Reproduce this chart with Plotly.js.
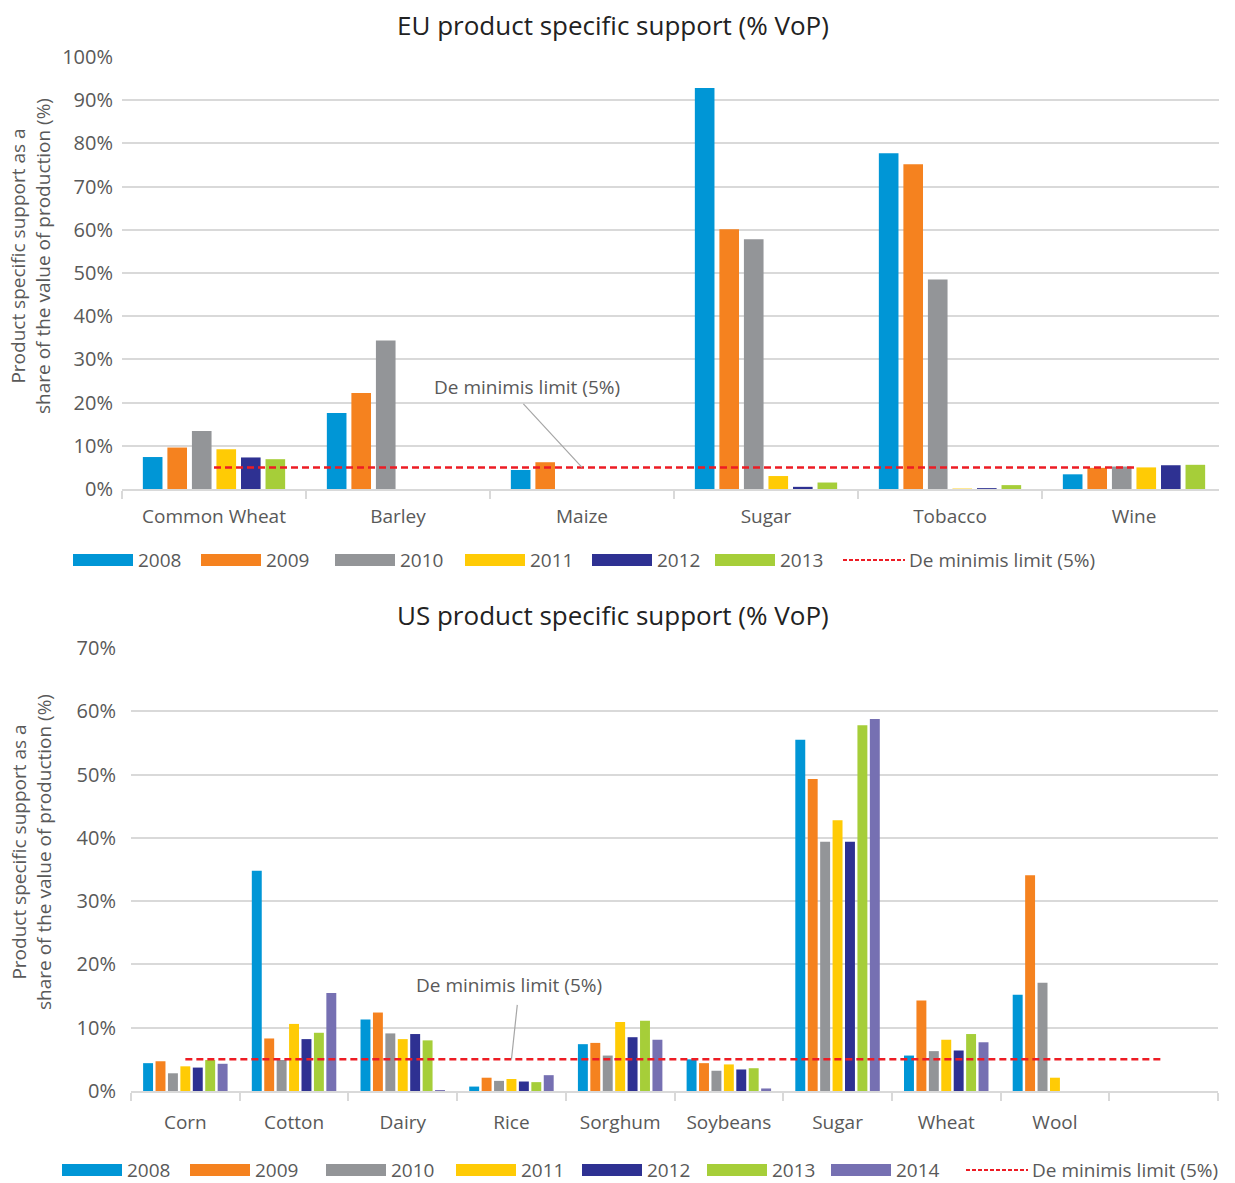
<!DOCTYPE html>
<html>
<head>
<meta charset="utf-8">
<script src="https://cdn.plot.ly/plotly-3.0.1.min.js"></script>
<style>
  html, body { margin: 0; padding: 0; background: #ffffff; }
  #chart { width: 1235px; height: 1183px; }
</style>
</head>
<body>
<div id="chart"></div>
<script>
// ---- EU product specific support, % of value of production ----
const euProducts = ['Common Wheat', 'Barley', 'Maize', 'Sugar', 'Tobacco', 'Wine'];
const euYears = ['2008', '2009', '2010', '2011', '2012', '2013'];
const eu2008 = [7.4, 17.6, 4.4, 92.8, 77.7, 3.4];
const eu2009 = [9.6, 22.2, 6.2, 60.1, 75.2, 4.9];
const eu2010 = [13.4, 34.4, null, 57.8, 48.5, 5.2];
const eu2011 = [9.2, null, null, 3.0, 0.1, 5.0];
const eu2012 = [7.3, null, null, 0.5, 0.2, 5.5];
const eu2013 = [6.9, null, null, 1.5, 0.9, 5.6];

// ---- US product specific support, % of value of production ----
const usProducts = ['Corn', 'Cotton', 'Dairy', 'Rice', 'Sorghum', 'Soybeans', 'Sugar', 'Wheat', 'Wool', ' '];
const usYears = ['2008', '2009', '2010', '2011', '2012', '2013', '2014'];
const us2008 = [4.4, 34.8, 11.3, 0.7, 7.4, 5.0, 55.5, 5.6, 15.2, null];
const us2009 = [4.7, 8.3, 12.4, 2.1, 7.6, 4.4, 49.3, 14.3, 34.1, null];
const us2010 = [2.8, 4.9, 9.1, 1.6, 5.6, 3.2, 39.4, 6.3, 17.1, null];
const us2011 = [3.9, 10.6, 8.2, 1.9, 10.9, 4.2, 42.8, 8.1, 2.1, null];
const us2012 = [3.7, 8.2, 9.0, 1.5, 8.5, 3.4, 39.4, 6.4, null, null];
const us2013 = [4.9, 9.2, 8.0, 1.4, 11.1, 3.6, 57.8, 9.0, null, null];
const us2014 = [4.3, 15.5, 0.15, 2.5, 8.1, 0.4, 58.8, 7.7, null, null];

// De minimis limit (%)
const deMinimis = 5;
const limitLabel = 'De minimis limit (5%)';

// ---- styling ----
const W = 1235, H = 1183;
const FONT = '"Open Sans", "Noto Sans", sans-serif';
const TXT = '#595959';
const GRID = '#d9d9d9';
const yearColors = {
  '2008': '#0096d6', '2009': '#f5821f', '2010': '#939598', '2011': '#ffcb05',
  '2012': '#2e3192', '2013': '#a6ce39', '2014': '#7670b2'
};
const RED = '#ed1c24';

// pixel -> paper helpers for layout placement
const px = x => x / W;
const py = y => 1 - y / H;

const euSeries = [eu2008, eu2009, eu2010, eu2011, eu2012, eu2013];
const usSeries = [us2008, us2009, us2010, us2011, us2012, us2013, us2014];

const traces = [];
euYears.forEach((yr, i) => {
  traces.push({
    type: 'bar', name: yr, x: euProducts, y: euSeries[i],
    xaxis: 'x', yaxis: 'y', offsetgroup: 'eu' + yr,
    marker: { color: yearColors[yr] }, showlegend: false, hoverinfo: 'x+y+name'
  });
});
traces.push({
  type: 'scatter', mode: 'lines', name: limitLabel,
  x: euProducts, y: euProducts.map(() => deMinimis), xaxis: 'x', yaxis: 'y',
  line: { color: RED, width: 2.5, dash: '7px,4px' }, showlegend: false
});
usYears.forEach((yr, i) => {
  traces.push({
    type: 'bar', name: yr, x: usProducts, y: usSeries[i],
    xaxis: 'x2', yaxis: 'y2', offsetgroup: 'us' + yr,
    marker: { color: yearColors[yr] }, showlegend: false, hoverinfo: 'x+y+name'
  });
});
traces.push({
  type: 'scatter', mode: 'lines', name: limitLabel,
  x: usProducts, y: usProducts.map(() => deMinimis), xaxis: 'x2', yaxis: 'y2',
  line: { color: RED, width: 2.5, dash: '7px,4px' }, showlegend: false
});

// ---- hand-built legends (wide colour swatches) ----
const shapes = [];
const annotations = [];
function addLegend(years, rectLefts, dashX, yc) {
  years.forEach((yr, i) => {
    const x0 = rectLefts[i];
    shapes.push({
      type: 'rect', xref: 'paper', yref: 'paper',
      x0: px(x0), x1: px(x0 + 60), y0: py(yc + 6), y1: py(yc - 6),
      fillcolor: yearColors[yr], line: { width: 0 }
    });
    annotations.push({
      xref: 'paper', yref: 'paper', x: px(x0 + 64), y: py(yc),
      xanchor: 'left', yanchor: 'middle', showarrow: false, text: yr, borderpad: 0,
      font: { family: FONT, size: 19, color: TXT }
    });
  });
  shapes.push({
    type: 'line', xref: 'paper', yref: 'paper',
    x0: px(dashX[0]), x1: px(dashX[1]), y0: py(yc), y1: py(yc),
    line: { color: RED, width: 2, dash: '4px,2px' }
  });
  annotations.push({
    xref: 'paper', yref: 'paper', x: px(dashX[1] + 3), y: py(yc),
    xanchor: 'left', yanchor: 'middle', showarrow: false, text: limitLabel, borderpad: 0,
    font: { family: FONT, size: 19, color: TXT }
  });
}
addLegend(euYears, [73, 201, 335, 465, 592, 715], [843, 905], 560);
addLegend(usYears, [62, 190, 326, 456, 582, 707, 831], [966, 1028], 1170);

// ---- titles ----
annotations.push({
  xref: 'paper', yref: 'paper', x: px(613), y: py(25), xanchor: 'center', yanchor: 'middle',
  showarrow: false, text: 'EU product specific support (% VoP)',
  font: { family: FONT, size: 26, color: '#222222' }
});
annotations.push({
  xref: 'paper', yref: 'paper', x: px(613), y: py(615), xanchor: 'center', yanchor: 'middle',
  showarrow: false, text: 'US product specific support (% VoP)',
  font: { family: FONT, size: 26, color: '#222222' }
});
const yTitle = 'Product specific support as a<br>share of the value of production (%)';
annotations.push({
  xref: 'paper', yref: 'paper', x: px(31), y: py(256), xanchor: 'center', yanchor: 'middle',
  showarrow: false, textangle: -90, text: yTitle,
  font: { family: FONT, size: 19, color: TXT }
});
annotations.push({
  xref: 'paper', yref: 'paper', x: px(31), y: py(852), xanchor: 'center', yanchor: 'middle',
  showarrow: false, textangle: -90, text: yTitle,
  font: { family: FONT, size: 19, color: TXT }
});

// ---- de minimis call-outs ----
annotations.push({
  xref: 'x', yref: 'y', x: 'Maize', y: deMinimis, text: '',
  showarrow: true, arrowhead: 0, arrowwidth: 1.2, arrowcolor: '#a6a6a6', ax: -60, ay: -65
});
annotations.push({
  xref: 'paper', yref: 'paper', x: px(527), y: py(387), xanchor: 'center', yanchor: 'middle',
  showarrow: false, text: limitLabel, font: { family: FONT, size: 19, color: TXT }
});
annotations.push({
  xref: 'x2', yref: 'y2', x: 'Rice', y: deMinimis, text: '',
  showarrow: true, arrowhead: 0, arrowwidth: 1.2, arrowcolor: '#a6a6a6', ax: 6, ay: -56
});
annotations.push({
  xref: 'paper', yref: 'paper', x: px(509), y: py(985), xanchor: 'center', yanchor: 'middle',
  showarrow: false, text: limitLabel, font: { family: FONT, size: 19, color: TXT }
});

// the EU grid and axis line stop short of the last category's right edge
shapes.push({
  type: 'rect', xref: 'paper', yref: 'paper', layer: 'above',
  x0: px(1219), x1: 1, y0: py(500), y1: py(50),
  fillcolor: '#ffffff', line: { width: 0 }
});

const xCommon = {
  type: 'category', showgrid: false, showline: true, linecolor: GRID, linewidth: 2,
  ticks: 'outside', tickson: 'boundaries', ticklen: 8, tickwidth: 2, tickcolor: GRID,
  tickfont: { family: FONT, size: 19, color: TXT },
  fixedrange: true
};
const yCommon = {
  showgrid: true, gridcolor: GRID, gridwidth: 2, zeroline: false, showline: false,
  ticks: '', dtick: 10, ticksuffix: '%',
  tickfont: { family: FONT, size: 20, color: TXT }, fixedrange: true
};

const layout = {
  width: W, height: H,
  margin: { l: 0, r: 0, t: 0, b: 0 },
  paper_bgcolor: '#ffffff', plot_bgcolor: '#ffffff',
  barmode: 'group', bargap: 0.2, bargroupgap: 0.2,
  showlegend: false,
  xaxis: Object.assign({}, xCommon, {
    domain: [px(122), px(1226)], anchor: 'y', ticklabelstandoff: 9,
    categoryorder: 'array', categoryarray: euProducts, range: [-0.5, 5.5]
  }),
  yaxis: Object.assign({}, yCommon, {
    domain: [py(489), py(57)], anchor: 'x', range: [0, 100], ticklabelstandoff: 8
  }),
  xaxis2: Object.assign({}, xCommon, {
    domain: [px(131), px(1218)], anchor: 'y2', ticklabelstandoff: 13,
    categoryorder: 'array', categoryarray: usProducts, range: [-0.5, 9.5]
  }),
  yaxis2: Object.assign({}, yCommon, {
    domain: [py(1091), py(648)], anchor: 'x2', range: [0, 70], ticklabelstandoff: 14
  }),
  shapes: shapes,
  annotations: annotations
};

Plotly.newPlot('chart', traces, layout, { displayModeBar: false, staticPlot: true });
</script>
</body>
</html>
